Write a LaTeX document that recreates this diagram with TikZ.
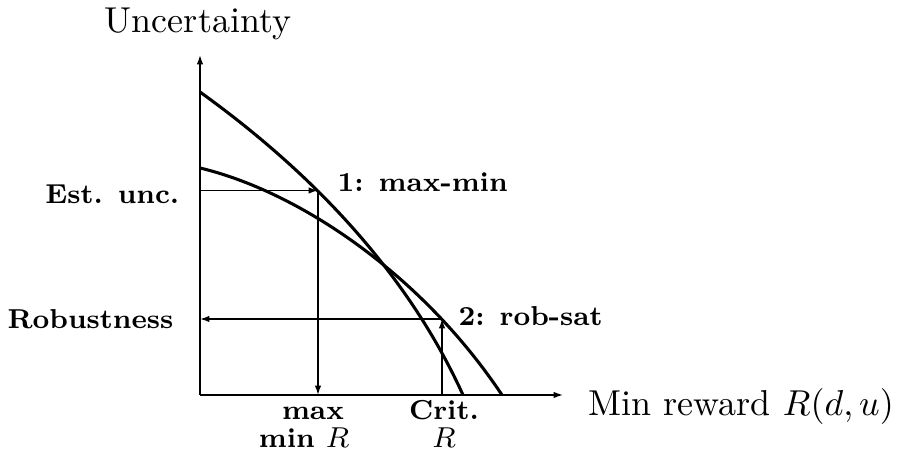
\documentclass[tikz,border=0pt]{standalone}
\usetikzlibrary{arrows.meta}
\begin{document}
\begin{tikzpicture}[x=0.27778pt,y=-0.27778pt,
  axis/.style={line width=0.4pt,-{Latex[length=2.6pt,width=1.8pt]}},
  guide/.style={line width=0.4pt,-{Latex[length=2.6pt,width=1.8pt]}},
  curve/.style={line width=0.85pt},
  lbl/.style={font=\fontsize{7.6}{9}\selectfont\bfseries,inner sep=0pt},
  big/.style={inner sep=0pt}]
\useasboundingbox (0,0) rectangle (902,457);
% axes
\coordinate (O) at (200,395);
\coordinate (ytip) at (200,55);
\coordinate (xtip) at (563,395);
\draw[axis] (O) -- (ytip);
\draw[axis] (O) -- (xtip);
% curves
\coordinate (a0) at (200,92);
\coordinate (a1) at (463,395);
\coordinate (b0) at (200,168);
\coordinate (b1) at (502,395);
\draw[curve] (a0) .. controls (300,164) and (403,263) .. (a1);
\draw[curve] (b0) .. controls (300,192) and (422,275) .. (b1);
% max-min guides
\coordinate (e0) at (200,190.5);
\coordinate (p1) at (318,190.5);
\coordinate (p1b) at (318,395);
\draw[guide] (e0) -- (p1);
\draw[guide] (p1) -- (p1b);
% rob-sat guides
\coordinate (r0) at (200,319);
\coordinate (p2) at (442,319);
\coordinate (p2b) at (442,395);
\draw[guide] (p2b) -- (p2);
\draw[guide] (p2) -- (r0);
% labels
\node[big,anchor=base] (ylab) at (198,33) {Uncertainty};
\node[big,anchor=base west] (xlab) at (588,416) {Min reward $R(d,u)$};
\node[lbl,anchor=base east] (est) at (180,204) {Est. unc.};
\node[lbl,anchor=base east] (rob) at (174,329) {Robustness};
\node[lbl,anchor=base west] (m1) at (337,192) {1: max-min};
\node[lbl,anchor=base west] (m2) at (458,326) {2: rob-sat};
\node[lbl,anchor=base] (mx) at (313,420) {max};
\node[lbl,anchor=base] (mn) at (304,448) {min $R$};
\node[lbl,anchor=base] (cr) at (444,420) {Crit.};
\node[lbl,anchor=base] (cR) at (444,448) {$R$};
\end{tikzpicture}
\end{document}
